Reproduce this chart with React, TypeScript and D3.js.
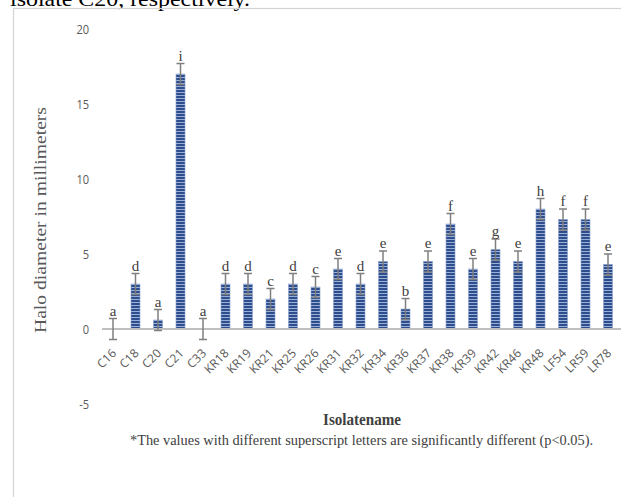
import React from "react";
import * as d3 from "d3";

const categories = ["C16","C18","C20","C21","C33","KR18","KR19","KR21","KR25","KR26","KR31","KR32","KR34","KR36","KR37","KR38","KR39","KR42","KR46","KR48","LF54","LR59","LR78"];
const values = [0,3,0.6,17,0,3,3,2,3,2.8,4,3,4.5,1.33,4.5,7,4,5.3,4.5,8,7.3,7.3,4.3];
const errors = [0.7,0.7,0.7,0.7,0.7,0.7,0.7,0.7,0.7,0.7,0.7,0.7,0.7,0.7,0.7,0.7,0.7,0.7,0.7,0.7,0.7,0.7,0.7];
const letters = ["a","d","a","i","a","d","d","c","d","c","e","d","e","b","e","f","e","g","e","h","f","f","e"];
const yTicks = [-5,0,5,10,15,20];

export default function App() {
  const W = 621, H = 497;
  const x = d3.scaleBand<string>().domain(categories).range([101.75, 619.25]).paddingInner(0.6).paddingOuter(0.3);
  const y = d3.scaleLinear().domain([-5, 20]).range([404, 29]);
  const bw = x.bandwidth();
  const serif = "'Liberation Serif', 'Times New Roman', serif";
  const sans = "'Open Sans', 'Noto Sans', sans-serif";
  return (
    <svg width={W} height={H} style={{ position: "absolute", left: 0, top: 0, background: "#fff" }}>
      <defs>
        <pattern id="stripes" x="0" y="0" width="40" height="3" patternUnits="userSpaceOnUse">
          <rect x="0" y="0" width="40" height="3" fill="#2d4d8c" />
          <rect x="0" y="2" width="40" height="1" fill="#9ab0d6" />
        </pattern>
      </defs>
      <text x={10} y={6} fontFamily={serif} fontSize={21} fill="#000" textLength={240} lengthAdjust="spacingAndGlyphs">isolate C20, respectively.</text>
      <rect x={13.5} y={8.5} width={W} height={H} fill="none" stroke="#d4d4d4" strokeWidth={1.2} />
      {yTicks.map(t => (
        <text key={t} x={89} y={y(t) + 5} textAnchor="end" fontFamily={sans} fontSize={13} fill="#595959" transform={`translate(${89 * 0.15},0) scale(0.85,1)`}>{t}</text>
      ))}
      <text transform={`translate(46,220) rotate(-90)`} textAnchor="middle" fontFamily={serif} fontSize={17} fill="#595959" textLength={226} lengthAdjust="spacingAndGlyphs">Halo diameter in millimeters</text>
      {categories.map((c, i) => {
        const v = values[i];
        const x0 = x(c)!;
        const y0 = y(Math.max(0, v));
        const h = Math.abs(y(v) - y(0));
        return v !== 0 ? (
          <rect key={"b" + c} x={x0} y={y0} width={bw} height={h} fill="url(#stripes)" stroke="#8aa0cc" strokeWidth={0.6} />
        ) : null;
      })}
      <line x1={102} x2={W} y1={y(0)} y2={y(0)} stroke="#bfbfbf" strokeWidth={2} />
      {categories.map((c, i) => {
        const cx = x(c)! + bw / 2;
        const top = y(values[i] + errors[i]);
        const bot = y(values[i] - errors[i]);
        return (
          <g key={"e" + c} stroke="#7f7f7f" strokeWidth={1.5}>
            <line x1={cx} x2={cx} y1={top} y2={bot} />
            <line x1={cx - 4} x2={cx + 4} y1={top} y2={top} />
            <line x1={cx - 4} x2={cx + 4} y1={bot} y2={bot} />
          </g>
        );
      })}
      {categories.map((c, i) => {
        const cx = x(c)! + bw / 2;
        const top = y(values[i] + errors[i]);
        return (
          <text key={"l" + c} x={cx} y={top - 3} textAnchor="middle" fontFamily={serif} fontSize={15} fill="#404040">{letters[i]}</text>
        );
      })}
      {categories.map((c) => {
        const cx = x(c)! + bw / 2;
        return (
          <text key={"x" + c} transform={`translate(${cx + 4},${y(0) + 25}) rotate(-45)`} textAnchor="end" fontFamily={sans} fontSize={12} fill="#595959">{c}</text>
        );
      })}
      <text x={362} y={425} textAnchor="middle" fontFamily={serif} fontSize={16} fontWeight="bold" fill="#404040" textLength={78} lengthAdjust="spacingAndGlyphs">Isolatename</text>
      <text x={130} y={445} fontFamily={serif} fontSize={15} fill="#404040" textLength={463} lengthAdjust="spacingAndGlyphs">*The values with different superscript letters are significantly different (p&lt;0.05).</text>
    </svg>
  );
}
